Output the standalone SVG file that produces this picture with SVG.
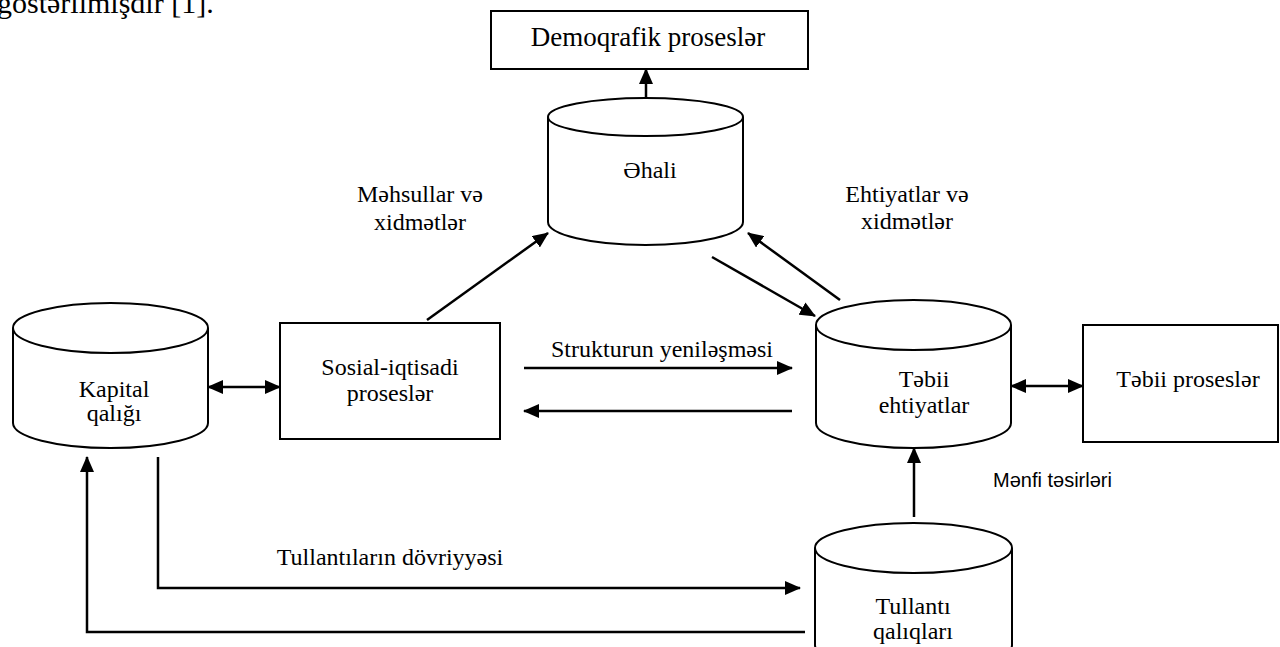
<svg xmlns="http://www.w3.org/2000/svg" width="1280" height="647" viewBox="0 0 1280 647">
<defs>
<marker id="ah" markerUnits="userSpaceOnUse" markerWidth="16" markerHeight="14" refX="15" refY="7" orient="auto-start-reverse" viewBox="0 0 16 14">
<path d="M0,0 L16,7 L0,14 z" fill="#000"/>
</marker>
<style>
.box{fill:#fff;stroke:#000;stroke-width:2}
.cyl{fill:#fff;stroke:#000;stroke-width:2}
.t{font-family:"Liberation Serif","Times New Roman","DejaVu Serif",serif;font-size:24px;fill:#000;text-anchor:middle}
.s{font-family:"Liberation Sans",Arial,"DejaVu Sans",sans-serif;font-size:20px;fill:#000}
.c{fill:none;stroke:#000;stroke-width:2.5}
.a{marker-end:url(#ah)}
.d{marker-start:url(#ah);marker-end:url(#ah)}
</style>
</defs>
<rect width="1280" height="647" fill="#fff"/>
<text x="-3" y="13" style="font-family:'Liberation Serif','Times New Roman','DejaVu Serif',serif;font-size:30px">göstərilmişdir [1].</text>

<g id="demoqrafik">
<rect class="box" x="491" y="11" width="317" height="58"/>
<text class="t" x="648" y="46" style="font-size:27px">Demoqrafik proseslər</text>
</g>

<g id="ehali">
<path class="cyl" d="M548,117 A97.5,19 0 0 1 743,117 L743,222 A97.5,23 0 0 1 548,222 Z"/>
<path class="cyl" fill="none" d="M548,117 A97.5,19 0 0 0 743,117"/>
<text class="t" x="650" y="178">Əhali</text>
</g>

<g id="kapital">
<path class="cyl" d="M13,328 A97.5,25 0 0 1 208,328 L208,423 A97.5,25 0 0 1 13,423 Z"/>
<path class="cyl" fill="none" d="M13,328 A97.5,25 0 0 0 208,328"/>
<text class="t" x="114" y="397">Kapital</text>
<text class="t" x="114" y="421">qalığı</text>
</g>

<g id="sosial">
<rect class="box" x="280" y="323" width="220" height="116"/>
<text class="t" x="390" y="375">Sosial-iqtisadi</text>
<text class="t" x="390" y="401">proseslər</text>
</g>

<g id="tebii-ehtiyatlar">
<path class="cyl" d="M816,325 A97.5,25 0 0 1 1011,325 L1011,423 A97.5,25 0 0 1 816,423 Z"/>
<path class="cyl" fill="none" d="M816,325 A97.5,25 0 0 0 1011,325"/>
<text class="t" x="924" y="387">Təbii</text>
<text class="t" x="924" y="413">ehtiyatlar</text>
</g>

<g id="tebii-prosesler">
<rect class="box" x="1083" y="325" width="195" height="117"/>
<text class="t" x="1188" y="387">Təbii proseslər</text>
</g>

<g id="tullanti">
<path class="cyl" d="M815,548 A98.5,25 0 0 1 1012,548 L1012,645 A98.5,25 0 0 1 815,645 Z"/>
<path class="cyl" fill="none" d="M815,548 A98.5,25 0 0 0 1012,548"/>
<text class="t" x="913" y="614">Tullantı</text>
<text class="t" x="913" y="639">qalıqları</text>
</g>

<g id="connectors">
<line class="c a" x1="646" y1="98" x2="646" y2="69"/>
<line class="c a" x1="427" y1="320" x2="548" y2="233"/>
<line class="c a" x1="712" y1="257" x2="815" y2="316"/>
<line class="c a" x1="840" y1="300" x2="748" y2="233"/>
<line class="c d" x1="208" y1="387" x2="280" y2="387"/>
<line class="c a" x1="524" y1="368" x2="792" y2="368"/>
<line class="c a" x1="792" y1="411" x2="524" y2="411"/>
<line class="c d" x1="1011" y1="386" x2="1083" y2="386"/>
<line class="c a" x1="914" y1="517" x2="914" y2="448"/>
<polyline class="c a" points="158,457 158,588 800,588"/>
<polyline class="c a" points="805,632 87,632 87,457"/>
</g>

<g id="labels">
<text class="t" x="420" y="202">Məhsullar və</text>
<text class="t" x="420" y="230">xidmətlər</text>
<text class="t" x="907" y="202">Ehtiyatlar və</text>
<text class="t" x="907" y="229">xidmətlər</text>
<text class="t" x="662" y="357">Strukturun yeniləşməsi</text>
<text class="s" x="993" y="487">Mənfi təsirləri</text>
<text class="t" x="390" y="565">Tullantıların dövriyyəsi</text>
</g>
</svg>
